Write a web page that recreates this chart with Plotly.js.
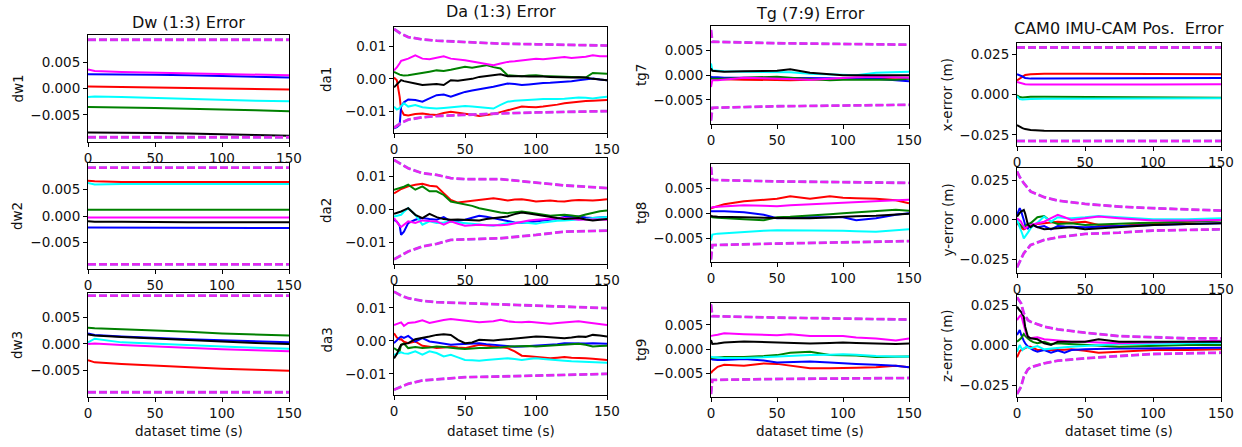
<!DOCTYPE html>
<html>
<head>
<meta charset="utf-8">
<script src="https://cdn.plot.ly/plotly-3.0.1.min.js"></script>
<style>html,body{margin:0;padding:0;background:#fff}#chart{width:1242px;height:447px}</style>
</head>
<body>
<div id="chart"></div>
<script>
// ---------- time axes ----------
const tD = [0, 5, 25, 50, 75, 100, 125, 150];
const tDB = [0, 150];
const tA = [0, 2, 4, 5, 7, 10, 15, 20, 25, 30, 35, 40, 45, 50, 55, 60, 65, 70, 75, 80, 85, 90, 95, 100, 105, 110, 115, 120, 125, 130, 135, 140, 145, 150];
const tAB = [0, 5, 10, 20, 30, 50, 75, 100, 125, 150];
const tA2B = [0, 10, 20, 30, 40, 50, 75, 100, 120, 150];
const tT = [0, 1, 5, 10, 25, 40, 50, 60, 75, 90, 100, 110, 125, 140, 150];
const tTB = [0, 1, 50, 100, 150];
const tPX = [0, 2, 4, 6, 10, 20, 50, 100, 150];
const tP = [0, 1, 2, 3, 4, 5, 6, 7, 8, 10, 12, 15, 20, 25, 30, 35, 40, 50, 60, 75, 90, 100, 125, 150];
const tPYB = [0, 2, 5, 10, 20, 30, 50, 75, 100, 125, 150];
const tPZB = [0, 3, 5, 8, 10, 20, 30, 50, 75, 100, 125, 150];

// ---------- titles / labels ----------
const columnTitles = ["Dw (1:3) Error", "Da (1:3) Error", "Tg (7:9) Error", "CAM0 IMU-CAM Pos.  Error"];
const yLabels = ["dw1", "da1", "tg7", "x-error (m)", "dw2", "da2", "tg8", "y-error (m)", "dw3", "da3", "tg9", "z-error (m)"];
const xLabel = "dataset time (s)";
const xTicks = [0, 50, 100, 150];
const yTicksSmall = [-0.005, 0, 0.005];
const yTicksMid = [-0.01, 0, 0.01];
const yTicksPos = [-0.025, 0, 0.025];

// ---------- Dw ----------
const dw1_red = [0.0004, 0.0004, 0.0003, 0.0002, 0.0001, 0.0000, -0.0001, -0.0002];
const dw1_blue = [0.0027, 0.0027, 0.0026, 0.0026, 0.0025, 0.0024, 0.0022, 0.0021];
const dw1_green = [-0.0035, -0.0035, -0.0036, -0.0037, -0.0038, -0.0039, -0.0041, -0.0043];
const dw1_cyan = [-0.0016, -0.0015, -0.0016, -0.0018, -0.0020, -0.0021, -0.0023, -0.0024];
const dw1_magenta = [0.0036, 0.0033, 0.0031, 0.0030, 0.0029, 0.0027, 0.0026, 0.0025];
const dw1_black = [-0.0083, -0.0083, -0.0084, -0.0084, -0.0085, -0.0087, -0.0088, -0.0089];
const dw1_up = [0.0092, 0.0092];
const dw1_lo = [-0.0092, -0.0092];

const dw2_red = [0.0067, 0.0066, 0.0065, 0.0065, 0.0065, 0.0065, 0.0065, 0.0065];
const dw2_blue = [-0.0022, -0.0022, -0.0022, -0.0022, -0.0022, -0.0023, -0.0023, -0.0023];
const dw2_green = [0.0012, 0.0012, 0.0012, 0.0012, 0.0012, 0.0012, 0.0012, 0.0012];
const dw2_cyan = [0.0063, 0.0060, 0.0061, 0.0061, 0.0061, 0.0061, 0.0061, 0.0061];
const dw2_magenta = [-0.0003, -0.0003, -0.0003, -0.0003, -0.0003, -0.0003, -0.0003, -0.0003];
const dw2_black = [-0.0010, -0.0011, -0.0011, -0.0012, -0.0012, -0.0012, -0.0012, -0.0012];
const dw2_up = [0.0092, 0.0092];
const dw2_lo = [-0.0092, -0.0092];

const dw3_red = [-0.0031, -0.0035, -0.0038, -0.0041, -0.0045, -0.0047, -0.0049, -0.0051];
const dw3_blue = [0.0020, 0.0017, 0.0014, 0.0011, 0.0009, 0.0007, 0.0005, 0.0003];
const dw3_green = [0.0031, 0.0030, 0.0028, 0.0026, 0.0023, 0.0020, 0.0018, 0.0016];
const dw3_cyan = [0.0003, 0.0010, 0.0003, 0.0000, -0.0003, -0.0005, -0.0007, -0.0009];
const dw3_magenta = [0.0000, 0.0001, -0.0002, -0.0005, -0.0008, -0.0010, -0.0012, -0.0014];
const dw3_black = [0.0018, 0.0016, 0.0013, 0.0010, 0.0007, 0.0005, 0.0002, 0.0000];
const dw3_up = [0.0092, 0.0092];
const dw3_lo = [-0.0092, -0.0092];

// ---------- Da ----------
const da1_red = [0.0004, -0.0004, -0.0055, -0.0095, -0.0110, -0.0112, -0.0108, -0.0106, -0.0109, -0.0111, -0.0105, -0.0101, -0.0104, -0.0106, -0.0110, -0.0114, -0.0111, -0.0108, -0.0102, -0.0096, -0.0090, -0.0085, -0.0086, -0.0087, -0.0085, -0.0083, -0.0079, -0.0075, -0.0072, -0.0070, -0.0068, -0.0067, -0.0066, -0.0065];
const da1_blue = [-0.0152, -0.0148, -0.0141, -0.0085, -0.0072, -0.0063, -0.0065, -0.0070, -0.0060, -0.0050, -0.0048, -0.0055, -0.0047, -0.0040, -0.0036, -0.0033, -0.0028, -0.0024, -0.0019, -0.0014, -0.0016, -0.0019, -0.0017, -0.0014, -0.0013, -0.0012, -0.0011, -0.0009, -0.0007, -0.0004, -0.0002, 0.0001, -0.0002, -0.0004];
const da1_green = [0.0021, 0.0016, 0.0013, 0.0012, 0.0010, 0.0011, 0.0014, 0.0018, 0.0022, 0.0026, 0.0024, 0.0028, 0.0032, 0.0037, 0.0034, 0.0037, 0.0042, 0.0036, 0.0032, 0.0011, 0.0010, 0.0008, 0.0010, 0.0011, 0.0009, 0.0008, 0.0007, 0.0006, 0.0006, 0.0005, 0.0004, 0.0018, 0.0017, 0.0016];
const da1_cyan = [-0.0085, -0.0094, -0.0090, -0.0083, -0.0075, -0.0085, -0.0080, -0.0087, -0.0089, -0.0091, -0.0089, -0.0087, -0.0085, -0.0083, -0.0085, -0.0087, -0.0089, -0.0091, -0.0080, -0.0070, -0.0067, -0.0065, -0.0064, -0.0063, -0.0062, -0.0063, -0.0062, -0.0061, -0.0059, -0.0057, -0.0058, -0.0060, -0.0057, -0.0055];
const da1_magenta = [0.0026, 0.0035, 0.0048, 0.0055, 0.0058, 0.0062, 0.0072, 0.0062, 0.0060, 0.0065, 0.0069, 0.0062, 0.0060, 0.0057, 0.0053, 0.0049, 0.0045, 0.0042, 0.0047, 0.0052, 0.0054, 0.0057, 0.0060, 0.0062, 0.0060, 0.0062, 0.0064, 0.0067, 0.0064, 0.0065, 0.0068, 0.0072, 0.0069, 0.0069];
const da1_black = [-0.0026, -0.0018, -0.0008, -0.0004, -0.0007, -0.0009, -0.0014, -0.0019, -0.0017, -0.0016, -0.0019, -0.0004, -0.0006, -0.0004, 0.0000, 0.0006, 0.0008, 0.0011, 0.0014, 0.0008, 0.0009, 0.0008, 0.0007, 0.0008, 0.0007, 0.0006, 0.0005, 0.0004, 0.0004, 0.0005, 0.0004, 0.0000, -0.0003, -0.0004];
const da1_up = [0.0153, 0.0138, 0.0128, 0.0121, 0.0117, 0.0112, 0.0108, 0.0106, 0.0104, 0.0102];
const da1_lo = [-0.0150, -0.0135, -0.0125, -0.0118, -0.0114, -0.0110, -0.0106, -0.0103, -0.0101, -0.0099];

const da2_red = [0.0048, 0.0052, 0.0058, 0.0061, 0.0064, 0.0069, 0.0074, 0.0077, 0.0071, 0.0069, 0.0048, 0.0028, 0.0020, 0.0023, 0.0025, 0.0028, 0.0030, 0.0033, 0.0030, 0.0026, 0.0029, 0.0030, 0.0027, 0.0023, 0.0025, 0.0026, 0.0024, 0.0023, 0.0026, 0.0028, 0.0027, 0.0026, 0.0028, 0.0030];
const da2_blue = [-0.0032, -0.0038, -0.0050, -0.0078, -0.0068, -0.0042, -0.0032, -0.0027, -0.0030, -0.0032, -0.0024, -0.0037, -0.0035, -0.0032, -0.0026, -0.0020, -0.0023, -0.0027, -0.0032, -0.0037, -0.0040, -0.0042, -0.0040, -0.0037, -0.0035, -0.0032, -0.0028, -0.0024, -0.0023, -0.0022, -0.0025, -0.0027, -0.0025, -0.0024];
const da2_green = [0.0059, 0.0061, 0.0063, 0.0064, 0.0068, 0.0074, 0.0059, 0.0069, 0.0054, 0.0054, 0.0043, 0.0023, 0.0019, 0.0016, 0.0010, 0.0003, -0.0002, -0.0007, -0.0010, -0.0012, -0.0010, -0.0007, -0.0010, -0.0014, -0.0017, -0.0020, -0.0018, -0.0017, -0.0019, -0.0022, -0.0016, -0.0010, -0.0006, -0.0004];
const da2_cyan = [-0.0022, -0.0020, -0.0018, -0.0017, -0.0008, 0.0003, -0.0017, -0.0047, -0.0037, -0.0042, -0.0040, -0.0037, -0.0040, -0.0042, -0.0045, -0.0047, -0.0049, -0.0050, -0.0046, -0.0042, -0.0041, -0.0040, -0.0042, -0.0044, -0.0040, -0.0037, -0.0035, -0.0034, -0.0033, -0.0032, -0.0030, -0.0027, -0.0025, -0.0024];
const da2_magenta = [-0.0027, -0.0040, -0.0050, -0.0054, -0.0046, -0.0037, -0.0042, -0.0034, -0.0036, -0.0037, -0.0047, -0.0037, -0.0044, -0.0050, -0.0049, -0.0047, -0.0049, -0.0050, -0.0049, -0.0047, -0.0042, -0.0037, -0.0034, -0.0032, -0.0031, -0.0030, -0.0028, -0.0027, -0.0029, -0.0032, -0.0031, -0.0030, -0.0031, -0.0032];
const da2_black = [-0.0014, -0.0012, -0.0009, -0.0007, -0.0003, 0.0003, -0.0017, -0.0027, -0.0014, -0.0024, -0.0030, -0.0032, -0.0031, -0.0032, -0.0033, -0.0034, -0.0030, -0.0027, -0.0025, -0.0022, -0.0015, -0.0010, -0.0013, -0.0017, -0.0020, -0.0024, -0.0027, -0.0030, -0.0028, -0.0027, -0.0031, -0.0034, -0.0032, -0.0030];
const da2_up = [0.0149, 0.0124, 0.0109, 0.0104, 0.0094, 0.0091, 0.0091, 0.0081, 0.0072, 0.0064];
const da2_lo = [-0.0152, -0.0128, -0.0113, -0.0105, -0.0093, -0.0091, -0.0088, -0.0078, -0.0068, -0.0065];

const da3_red = [0.0023, 0.0010, 0.0004, 0.0005, -0.0003, -0.0007, -0.0002, -0.0015, -0.0018, -0.0022, -0.0020, -0.0017, -0.0020, -0.0022, -0.0017, -0.0012, -0.0014, -0.0017, -0.0020, -0.0022, -0.0032, -0.0045, -0.0047, -0.0049, -0.0051, -0.0053, -0.0051, -0.0049, -0.0051, -0.0053, -0.0053, -0.0054, -0.0056, -0.0058];
const da3_blue = [-0.0007, 0.0003, 0.0010, 0.0013, 0.0009, 0.0015, -0.0002, 0.0008, -0.0002, -0.0005, -0.0008, -0.0012, -0.0010, -0.0009, -0.0008, -0.0007, -0.0010, -0.0012, -0.0015, -0.0017, -0.0018, -0.0017, -0.0016, -0.0015, -0.0013, -0.0012, -0.0010, -0.0007, -0.0008, -0.0009, -0.0008, -0.0007, -0.0008, -0.0009];
const da3_green = [-0.0022, -0.0028, -0.0030, -0.0012, -0.0008, -0.0022, -0.0019, -0.0022, -0.0020, -0.0017, -0.0019, -0.0022, -0.0023, -0.0025, -0.0023, -0.0022, -0.0022, -0.0022, -0.0020, -0.0017, -0.0016, -0.0015, -0.0016, -0.0017, -0.0016, -0.0015, -0.0014, -0.0012, -0.0010, -0.0009, -0.0012, -0.0017, -0.0016, -0.0015];
const da3_cyan = [-0.0042, -0.0039, -0.0036, -0.0035, -0.0038, -0.0039, -0.0032, -0.0042, -0.0032, -0.0037, -0.0047, -0.0042, -0.0050, -0.0058, -0.0059, -0.0060, -0.0058, -0.0056, -0.0054, -0.0053, -0.0055, -0.0058, -0.0055, -0.0053, -0.0055, -0.0056, -0.0058, -0.0060, -0.0062, -0.0063, -0.0064, -0.0066, -0.0066, -0.0066];
const da3_magenta = [0.0048, 0.0052, 0.0055, 0.0056, 0.0045, 0.0054, 0.0056, 0.0062, 0.0054, 0.0059, 0.0063, 0.0066, 0.0064, 0.0062, 0.0058, 0.0056, 0.0058, 0.0059, 0.0064, 0.0059, 0.0057, 0.0056, 0.0058, 0.0056, 0.0054, 0.0052, 0.0054, 0.0056, 0.0058, 0.0059, 0.0056, 0.0054, 0.0051, 0.0048];
const da3_black = [-0.0053, -0.0040, -0.0020, -0.0012, -0.0010, -0.0007, 0.0005, 0.0008, 0.0013, 0.0018, 0.0020, 0.0018, 0.0003, -0.0007, -0.0005, 0.0003, 0.0002, 0.0001, 0.0003, 0.0005, 0.0006, 0.0008, 0.0010, 0.0013, 0.0012, 0.0011, 0.0010, 0.0008, 0.0010, 0.0013, 0.0012, 0.0018, 0.0016, 0.0013];
const da3_up = [0.0149, 0.0137, 0.0129, 0.0121, 0.0117, 0.0114, 0.0110, 0.0106, 0.0102, 0.0099];
const da3_lo = [-0.0148, -0.0138, -0.0130, -0.0120, -0.0116, -0.0110, -0.0108, -0.0106, -0.0103, -0.0100];

// ---------- Tg ----------
const tg7_red = [-0.0005, -0.0006, -0.0007, -0.0008, -0.0009, -0.0010, -0.0010, -0.0010, -0.0009, -0.0008, -0.0007, -0.0006, -0.0005, -0.0005, -0.0005];
const tg7_blue = [-0.0003, -0.0004, -0.0004, -0.0005, -0.0005, -0.0005, -0.0005, -0.0005, -0.0005, -0.0006, -0.0007, -0.0007, -0.0007, -0.0010, -0.0012];
const tg7_green = [-0.0007, -0.0007, -0.0007, -0.0007, -0.0005, -0.0004, -0.0003, -0.0005, -0.0007, -0.0010, -0.0009, -0.0009, -0.0010, -0.0009, -0.0007];
const tg7_cyan = [0.0024, 0.0010, 0.0009, 0.0008, 0.0007, 0.0007, 0.0007, 0.0006, 0.0003, 0.0002, 0.0002, 0.0000, 0.0005, 0.0007, 0.0007];
const tg7_magenta = [-0.0024, -0.0010, -0.0010, -0.0009, -0.0005, -0.0006, -0.0007, -0.0008, -0.0009, -0.0007, -0.0005, -0.0004, -0.0003, -0.0004, -0.0005];
const tg7_black = [0.0014, 0.0009, 0.0008, 0.0007, 0.0008, 0.0009, 0.0009, 0.0012, 0.0005, 0.0002, 0.0000, 0.0000, 0.0000, 0.0001, 0.0000];
const tg7_up = [0.0092, 0.0068, 0.0065, 0.0064, 0.0062];
const tg7_lo = [-0.0092, -0.0066, -0.0063, -0.0062, -0.0060];

const tg8_red = [0.0009, 0.0011, 0.0014, 0.0018, 0.0024, 0.0027, 0.0029, 0.0034, 0.0029, 0.0034, 0.0031, 0.0030, 0.0029, 0.0026, 0.0020];
const tg8_blue = [0.0004, 0.0004, 0.0004, 0.0004, 0.0002, -0.0003, -0.0010, -0.0009, -0.0008, -0.0008, -0.0008, -0.0014, -0.0010, -0.0003, 0.0000];
const tg8_green = [-0.0007, -0.0008, -0.0009, -0.0010, -0.0012, -0.0014, -0.0008, -0.0007, -0.0005, -0.0002, 0.0000, 0.0002, 0.0005, 0.0007, 0.0005];
const tg8_cyan = [-0.0055, -0.0043, -0.0041, -0.0040, -0.0037, -0.0035, -0.0034, -0.0034, -0.0034, -0.0035, -0.0035, -0.0036, -0.0037, -0.0034, -0.0032];
const tg8_magenta = [0.0011, 0.0012, 0.0013, 0.0014, 0.0016, 0.0015, 0.0014, 0.0016, 0.0018, 0.0020, 0.0022, 0.0023, 0.0024, 0.0026, 0.0027];
const tg8_black = [-0.0005, -0.0006, -0.0007, -0.0007, -0.0008, -0.0009, -0.0010, -0.0010, -0.0010, -0.0008, -0.0007, -0.0006, -0.0005, -0.0003, -0.0001];
const tg8_up = [0.0093, 0.0067, 0.0064, 0.0062, 0.0061];
const tg8_lo = [-0.0093, -0.0064, -0.0061, -0.0058, -0.0056];

const tg9_red = [-0.0049, -0.0045, -0.0036, -0.0032, -0.0034, -0.0029, -0.0030, -0.0034, -0.0039, -0.0039, -0.0039, -0.0038, -0.0037, -0.0034, -0.0037];
const tg9_blue = [-0.0020, -0.0021, -0.0022, -0.0022, -0.0020, -0.0023, -0.0027, -0.0026, -0.0025, -0.0027, -0.0029, -0.0030, -0.0032, -0.0034, -0.0037];
const tg9_green = [-0.0018, -0.0018, -0.0017, -0.0016, -0.0016, -0.0014, -0.0012, -0.0007, -0.0005, -0.0012, -0.0012, -0.0013, -0.0016, -0.0015, -0.0015];
const tg9_cyan = [-0.0015, -0.0016, -0.0017, -0.0018, -0.0018, -0.0016, -0.0014, -0.0013, -0.0012, -0.0011, -0.0010, -0.0011, -0.0014, -0.0015, -0.0015];
const tg9_magenta = [0.0027, 0.0028, 0.0030, 0.0033, 0.0031, 0.0030, 0.0029, 0.0031, 0.0027, 0.0027, 0.0027, 0.0024, 0.0022, 0.0018, 0.0022];
const tg9_black = [0.0019, 0.0011, 0.0012, 0.0014, 0.0016, 0.0015, 0.0014, 0.0013, 0.0012, 0.0013, 0.0014, 0.0013, 0.0012, 0.0011, 0.0012];
const tg9_up = [0.0092, 0.0068, 0.0065, 0.0063, 0.0061];
const tg9_lo = [-0.0092, -0.0063, -0.0061, -0.0060, -0.0059];

// ---------- IMU-CAM position ----------
const px_red = [0.0088, 0.0100, 0.0112, 0.0122, 0.0126, 0.0130, 0.0130, 0.0128, 0.0126];
const px_blue = [0.0126, 0.0120, 0.0112, 0.0103, 0.0099, 0.0099, 0.0100, 0.0102, 0.0103];
const px_green = [-0.0004, -0.0015, -0.0018, -0.0016, -0.0014, -0.0014, -0.0015, -0.0017, -0.0019];
const px_cyan = [-0.0010, -0.0028, -0.0030, -0.0028, -0.0027, -0.0026, -0.0025, -0.0024, -0.0023];
const px_magenta = [0.0078, 0.0074, 0.0068, 0.0064, 0.0063, 0.0062, 0.0062, 0.0063, 0.0064];
const px_black = [-0.0189, -0.0200, -0.0208, -0.0214, -0.0220, -0.0224, -0.0226, -0.0226, -0.0226];
const px_up = [0.0292, 0.0292];
const px_lo = [-0.0288, -0.0288];

const py_red = [-0.0021, -0.0030, -0.0040, -0.0048, -0.0055, -0.0059, -0.0055, -0.0050, -0.0045, -0.0038, -0.0030, -0.0025, -0.0021, -0.0015, -0.0011, -0.0014, -0.0017, -0.0011, -0.0032, -0.0038, -0.0028, -0.0021, -0.0011, 0.0000];
const py_blue = [0.0032, 0.0060, 0.0074, 0.0055, 0.0032, 0.0000, -0.0032, -0.0045, -0.0053, -0.0021, -0.0035, -0.0046, -0.0038, -0.0059, -0.0038, -0.0042, -0.0044, -0.0046, -0.0043, -0.0038, -0.0034, -0.0032, -0.0025, -0.0021];
const py_green = [-0.0011, -0.0020, -0.0030, -0.0038, -0.0043, -0.0046, -0.0040, -0.0032, -0.0025, -0.0021, -0.0005, 0.0017, 0.0025, -0.0011, -0.0025, -0.0022, -0.0021, -0.0032, -0.0030, -0.0025, -0.0020, -0.0017, -0.0011, -0.0004];
const py_cyan = [0.0000, -0.0020, -0.0040, -0.0063, -0.0090, -0.0116, -0.0105, -0.0095, -0.0080, -0.0053, -0.0035, -0.0017, 0.0021, -0.0011, 0.0017, 0.0013, 0.0011, 0.0017, 0.0025, 0.0017, 0.0011, 0.0004, 0.0004, 0.0011];
const py_magenta = [0.0011, 0.0005, -0.0003, -0.0011, -0.0030, -0.0045, -0.0053, -0.0048, -0.0040, -0.0032, -0.0028, -0.0021, -0.0011, 0.0011, 0.0032, 0.0017, 0.0000, 0.0011, 0.0021, 0.0011, 0.0000, -0.0004, -0.0004, 0.0000];
const py_black = [0.0021, 0.0035, 0.0045, 0.0053, 0.0058, 0.0063, 0.0040, 0.0000, -0.0030, -0.0045, -0.0032, -0.0045, -0.0059, -0.0055, -0.0053, -0.0050, -0.0046, -0.0059, -0.0053, -0.0046, -0.0038, -0.0032, -0.0025, -0.0021];
const py_up = [0.0305, 0.0270, 0.0231, 0.0179, 0.0143, 0.0122, 0.0101, 0.0084, 0.0074, 0.0067, 0.0059];
const py_lo = [-0.0298, -0.0260, -0.0210, -0.0158, -0.0126, -0.0109, -0.0088, -0.0080, -0.0067, -0.0063, -0.0059];

const pz_red = [-0.0073, -0.0048, -0.0035, -0.0027, -0.0022, -0.0017, -0.0012, -0.0009, -0.0007, -0.0006, -0.0015, -0.0027, -0.0027, -0.0029, -0.0027, -0.0025, -0.0023, -0.0031, -0.0044, -0.0038, -0.0032, -0.0027, -0.0027, -0.0023];
const pz_blue = [0.0067, 0.0085, 0.0098, 0.0070, 0.0046, 0.0030, 0.0015, 0.0005, -0.0006, -0.0017, -0.0028, -0.0038, -0.0027, -0.0044, -0.0031, -0.0044, -0.0027, -0.0023, -0.0020, -0.0017, -0.0017, -0.0017, -0.0013, -0.0013];
const pz_green = [0.0025, 0.0032, 0.0040, 0.0046, 0.0060, 0.0073, 0.0062, 0.0052, 0.0045, 0.0031, 0.0022, 0.0015, 0.0025, 0.0010, 0.0015, 0.0012, 0.0010, 0.0004, 0.0000, -0.0006, -0.0004, -0.0002, 0.0004, 0.0004];
const pz_cyan = [-0.0038, -0.0015, 0.0004, -0.0012, -0.0027, -0.0018, -0.0010, -0.0006, -0.0010, -0.0017, -0.0010, -0.0002, -0.0023, -0.0020, -0.0017, -0.0010, -0.0006, -0.0002, 0.0004, 0.0010, 0.0010, 0.0010, 0.0015, 0.0019];
const pz_magenta = [0.0160, 0.0175, 0.0185, 0.0192, 0.0160, 0.0119, 0.0090, 0.0067, 0.0058, 0.0046, 0.0050, 0.0052, 0.0040, 0.0038, 0.0035, 0.0030, 0.0025, 0.0025, 0.0020, 0.0015, 0.0018, 0.0019, 0.0025, 0.0031];
const pz_black = [0.0244, 0.0230, 0.0220, 0.0212, 0.0195, 0.0181, 0.0119, 0.0085, 0.0056, 0.0046, 0.0043, 0.0040, 0.0015, 0.0004, 0.0025, 0.0027, 0.0025, 0.0025, 0.0040, 0.0025, 0.0025, 0.0025, 0.0025, 0.0025];
const pz_up = [0.0302, 0.0265, 0.0202, 0.0160, 0.0150, 0.0119, 0.0102, 0.0081, 0.0060, 0.0052, 0.0046, 0.0046];
const pz_lo = [-0.0302, -0.0256, -0.0194, -0.0148, -0.0135, -0.0110, -0.0094, -0.0079, -0.0065, -0.0052, -0.0048, -0.0044];

// ---------- assembly ----------
const W = 1242, H = 447;
const seriesColors = {red: '#ff0000', blue: '#0000ff', green: '#008000', cyan: '#00ffff', magenta: '#ff00ff', black: '#000000'};
const boundUnder = '#9a5cf0';
const boundColor = '#ee22ee';
const FONT = 'DejaVu Sans, sans-serif';

function S(r, b, g, c, m, k) { return {red: r, blue: b, green: g, cyan: c, magenta: m, black: k}; }

// panel boxes in pixels [x0, y0, x1, y1]
const panels = [
  {t: tD, s: S(dw1_red, dw1_blue, dw1_green, dw1_cyan, dw1_magenta, dw1_black), bt: tDB, up: dw1_up, lo: dw1_lo, box: [88, 35, 289, 142], range: [-0.0101, 0.0101], ticks: yTicksSmall, fmt: '.3f'},
  {t: tA, s: S(da1_red, da1_blue, da1_green, da1_cyan, da1_magenta, da1_black), bt: tAB, up: da1_up, lo: da1_lo, box: [394, 27, 607, 133], range: [-0.0166, 0.0159], ticks: yTicksMid, fmt: '.2f'},
  {t: tT, s: S(tg7_red, tg7_blue, tg7_green, tg7_cyan, tg7_magenta, tg7_black), bt: tTB, up: tg7_up, lo: tg7_lo, box: [711, 26, 909, 124], range: [-0.0099, 0.0100], ticks: yTicksSmall, fmt: '.3f'},
  {t: tPX, s: S(px_red, px_blue, px_green, px_cyan, px_magenta, px_black), bt: tDB, up: px_up, lo: px_lo, box: [1017, 43, 1221, 146], range: [-0.0319, 0.0320], ticks: yTicksPos, fmt: '.3f'},
  {t: tD, s: S(dw2_red, dw2_blue, dw2_green, dw2_cyan, dw2_magenta, dw2_black), bt: tDB, up: dw2_up, lo: dw2_lo, box: [88, 163, 289, 269], range: [-0.0101, 0.0101], ticks: yTicksSmall, fmt: '.3f'},
  {t: tA, s: S(da2_red, da2_blue, da2_green, da2_cyan, da2_magenta, da2_black), bt: tA2B, up: da2_up, lo: da2_lo, box: [394, 158, 607, 264], range: [-0.0166, 0.0155], ticks: yTicksMid, fmt: '.2f'},
  {t: tT, s: S(tg8_red, tg8_blue, tg8_green, tg8_cyan, tg8_magenta, tg8_black), bt: tTB, up: tg8_up, lo: tg8_lo, box: [711, 164, 909, 262], range: [-0.0098, 0.0099], ticks: yTicksSmall, fmt: '.3f'},
  {t: tP, s: S(py_red, py_blue, py_green, py_cyan, py_magenta, py_black), bt: tPYB, up: py_up, lo: py_lo, box: [1017, 168, 1221, 273], range: [-0.0334, 0.0327], ticks: yTicksPos, fmt: '.3f'},
  {t: tD, s: S(dw3_red, dw3_blue, dw3_green, dw3_cyan, dw3_magenta, dw3_black), bt: tDB, up: dw3_up, lo: dw3_lo, box: [88, 293, 289, 397], range: [-0.0101, 0.0097], ticks: yTicksSmall, fmt: '.3f'},
  {t: tA, s: S(da3_red, da3_blue, da3_green, da3_cyan, da3_magenta, da3_black), bt: tAB, up: da3_up, lo: da3_lo, box: [394, 286, 607, 395], range: [-0.0164, 0.0166], ticks: yTicksMid, fmt: '.2f'},
  {t: tT, s: S(tg9_red, tg9_blue, tg9_green, tg9_cyan, tg9_magenta, tg9_black), bt: tTB, up: tg9_up, lo: tg9_lo, box: [711, 303, 909, 397], range: [-0.0098, 0.0095], ticks: yTicksSmall, fmt: '.3f'},
  {t: tP, s: S(pz_red, pz_blue, pz_green, pz_cyan, pz_magenta, pz_black), bt: tPZB, up: pz_up, lo: pz_lo, box: [1017, 295, 1221, 397], range: [-0.0321, 0.0317], ticks: yTicksPos, fmt: '.3f'}
];

const order = ['red', 'blue', 'green', 'cyan', 'magenta', 'black'];
const traces = [];
const layout = {
  width: W, height: H,
  margin: {l: 0, r: 0, t: 0, b: 0},
  paper_bgcolor: '#ffffff', plot_bgcolor: '#ffffff',
  showlegend: false,
  font: {family: FONT, size: 13.5, color: '#111'},
  annotations: []
};

panels.forEach((p, i) => {
  const n = i + 1;
  const xa = 'x' + (n === 1 ? '' : n), ya = 'y' + (n === 1 ? '' : n);
  order.forEach(c => {
    traces.push({x: p.t, y: p.s[c], xaxis: xa, yaxis: ya, type: 'scatter', mode: 'lines',
      line: {color: seriesColors[c], width: 2}, hoverinfo: 'skip'});
  });
  [p.up, p.lo].forEach(b => {
    traces.push({x: p.bt, y: b, xaxis: xa, yaxis: ya, type: 'scatter', mode: 'lines',
      line: {color: boundUnder, width: 2.8, dash: '8px,3px'}, hoverinfo: 'skip'});
    traces.push({x: p.bt, y: b, xaxis: xa, yaxis: ya, type: 'scatter', mode: 'lines',
      line: {color: boundColor, width: 2, dash: '8px,3px'}, hoverinfo: 'skip'});
  });
  const [x0, y0, x1, y1] = p.box;
  const common = {showline: true, mirror: true, linecolor: '#000', linewidth: 1,
    ticks: 'outside', ticklen: 4, tickwidth: 1, tickcolor: '#000',
    showgrid: false, zeroline: false, tickfont: {family: FONT, size: 13.5, color: '#111'}};
  layout['xaxis' + (n === 1 ? '' : n)] = Object.assign({}, common, {
    domain: [x0 / W, x1 / W], anchor: ya, range: [0, 150], tickvals: xTicks, ticktext: xTicks.map(String)});
  layout['yaxis' + (n === 1 ? '' : n)] = Object.assign({}, common, {
    domain: [1 - y1 / H, 1 - y0 / H], anchor: xa, range: p.range, tickvals: p.ticks, tickformat: p.fmt});
  layout.annotations.push({text: yLabels[i], xref: 'paper', yref: 'paper',
    x: [17, 326, 641, 947][i % 4] / W, y: 1 - ((y0 + y1) / 2) / H, textangle: -90,
    showarrow: false, xanchor: 'center', yanchor: 'middle', font: {family: FONT, size: 13.5, color: '#111'}});
});

const titleY = [22.5, 11, 13.5, 29];
const colCenters = [188.5, 500.5, 810, 1119];
columnTitles.forEach((t, j) => {
  layout.annotations.push({text: t, xref: 'paper', yref: 'paper', x: colCenters[j] / W, y: 1 - titleY[j] / H,
    showarrow: false, xanchor: 'center', yanchor: 'middle', font: {family: FONT, size: 16, color: '#111'}});
  layout.annotations.push({text: xLabel, xref: 'paper', yref: 'paper', x: colCenters[j] / W, y: 1 - 431 / H,
    showarrow: false, xanchor: 'center', yanchor: 'middle', font: {family: FONT, size: 13.5, color: '#111'}});
});

Plotly.newPlot('chart', traces, layout, {staticPlot: true, displayModeBar: false});
</script>
</body>
</html>
